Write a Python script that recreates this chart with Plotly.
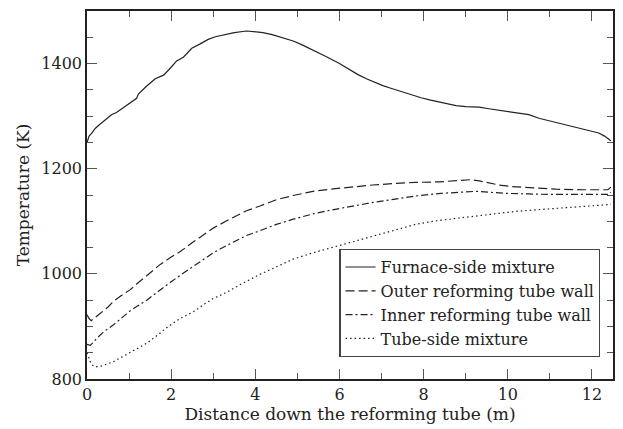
import plotly.graph_objects as go

# Furnace-side mixture
x_furnace = [0.0, 0.05, 0.12, 0.2, 0.3, 0.39, 0.5, 0.59, 0.7, 0.79, 0.9, 1.0, 1.1, 1.18, 1.22,
             1.4, 1.62, 1.82, 2.0, 2.13, 2.29, 2.49, 2.68, 2.88, 3.05, 3.24, 3.5, 3.79, 4.0,
             4.18, 4.4, 4.58, 4.75, 4.9, 5.1, 5.29, 5.5, 5.69, 6.0, 6.24, 6.44, 6.64, 6.84,
             7.03, 7.22, 7.42, 7.58, 7.74, 7.94, 8.14, 8.37, 8.57, 8.77, 9.0, 9.32, 9.55,
             9.79, 10.1, 10.5, 10.74, 11.0, 11.14, 11.35, 11.53, 11.8, 12.0, 12.16, 12.3, 12.45]
t_furnace = [1250, 1262, 1268, 1277, 1284, 1290, 1297, 1303, 1307, 1312, 1318, 1324, 1330, 1334, 1342,
             1356, 1371, 1378, 1393, 1405, 1412, 1429, 1437, 1446, 1451, 1455, 1459, 1462, 1461,
             1459, 1455, 1451, 1447, 1443, 1436, 1429, 1421, 1413, 1400, 1388, 1379, 1371, 1364,
             1358, 1353, 1348, 1343, 1339, 1335, 1331, 1327, 1323, 1320, 1318, 1317, 1314,
             1311, 1307, 1303, 1296, 1291, 1288, 1284, 1280, 1275, 1272, 1268, 1262, 1253]

# Outer reforming tube wall
x_outer = [0.0, 0.05, 0.1, 0.2, 0.32, 0.5, 0.63, 0.8, 1.03, 1.2, 1.42, 1.74, 2.0, 2.21, 2.53,
           2.8, 3.0, 3.32, 3.6, 3.79, 4.11, 4.5, 4.9, 5.37, 5.77, 6.0, 6.4, 6.79, 7.35, 7.8,
           8.37, 8.8, 9.1, 9.32, 9.6, 9.79, 10.1, 10.5, 11.14, 11.8, 12.38, 12.45]
t_outer = [922, 915, 911, 917, 925, 937, 948, 958, 970, 982, 996, 1018, 1032, 1042, 1061,
           1076, 1087, 1101, 1113, 1120, 1129, 1141, 1149, 1157, 1161, 1163, 1167, 1169, 1172, 1174,
           1175, 1177, 1179, 1177, 1172, 1169, 1166, 1164, 1161, 1160, 1160, 1165]

# Inner reforming tube wall
x_inner = [0.0, 0.08, 0.24, 0.4, 0.63, 0.8, 1.03, 1.42, 1.74, 2.0, 2.21, 2.53, 2.8, 3.0, 3.32,
           3.6, 3.79, 4.11, 4.5, 4.9, 5.37, 5.77, 6.0, 6.4, 6.8, 7.35, 7.8, 8.4, 9.0, 9.24,
           9.6, 10.0, 10.5, 11.0, 12.0, 12.4, 12.45]
t_inner = [866, 864, 878, 890, 903, 915, 930, 950, 970, 985, 997, 1014, 1029, 1040, 1054,
           1066, 1073, 1082, 1094, 1104, 1114, 1121, 1124, 1130, 1136, 1143, 1148, 1153, 1156, 1157,
           1155, 1153, 1152, 1151, 1151, 1151, 1155]

# Tube-side mixture
x_tube = [0.0, 0.05, 0.1, 0.2, 0.35, 0.63, 0.9, 1.2, 1.42, 1.7, 1.9, 2.21, 2.53, 2.8, 3.0,
          3.32, 3.6, 4.11, 4.5, 4.9, 5.37, 5.77, 6.0, 6.5, 7.0, 7.35, 7.8, 8.3, 8.8, 9.24,
          9.7, 10.2, 10.7, 11.2, 11.7, 12.2, 12.45]
t_tube = [850, 840, 828, 823, 825, 833, 845, 858, 868, 885, 898, 915, 928, 943, 953,
          965, 978, 999, 1014, 1028, 1040, 1049, 1054, 1066, 1077, 1085, 1094, 1101, 1106, 1110,
          1115, 1119, 1122, 1125, 1128, 1130, 1132]

names = ["Furnace-side mixture", "Outer reforming tube wall",
         "Inner reforming tube wall", "Tube-side mixture"]
series = [(x_furnace, t_furnace, "solid"),
          (x_outer, t_outer, "9px,4px"),
          (x_inner, t_inner, "7px,3px,2px,3px"),
          (x_tube, t_tube, "1.5px,3px")]

FONT = "DejaVu Serif"
INK = "#222222"

fig = go.Figure()
for name, (xs, ts, dash) in zip(names, series):
    fig.add_trace(go.Scatter(x=xs, y=ts, mode="lines", name=name,
                             line=dict(color=INK, width=1.2, dash=dash)))

axis_common = dict(showgrid=False, zeroline=False, showline=True, linecolor=INK,
                   linewidth=1.5, mirror="allticks", ticks="inside", ticklen=10,
                   tickwidth=1.2, tickcolor="#555555",
                   tickfont=dict(family=FONT, size=16, color=INK))

fig.update_layout(
    width=623, height=429,
    margin=dict(l=87, r=8, t=11, b=48),
    paper_bgcolor="white", plot_bgcolor="white",
    font=dict(family=FONT, color=INK),
    xaxis=dict(range=[0, 12.5], tick0=0, dtick=2,
               minor=dict(ticks="inside", ticklen=6, dtick=1, tickcolor="#555555", tickwidth=1.2),
               title=dict(text="Distance down the reforming tube (m)",
                          font=dict(family=FONT, size=17, color=INK), standoff=5),
               **axis_common),
    yaxis=dict(range=[800, 1500], tick0=800, dtick=200,
               minor=dict(ticks="inside", ticklen=6, dtick=50, tickcolor="#555555", tickwidth=1.2),
               title=dict(text="Temperature (K)",
                          font=dict(family=FONT, size=17, color=INK), standoff=7),
               **axis_common),
    legend=dict(x=0.976, y=0.06, xanchor="right", yanchor="bottom",
                bgcolor="white", bordercolor="#444444", borderwidth=1.2,
                font=dict(family=FONT, size=16, color=INK),
                tracegroupgap=0, itemwidth=30),
    showlegend=True,
)

fig.write_html("out.html")
